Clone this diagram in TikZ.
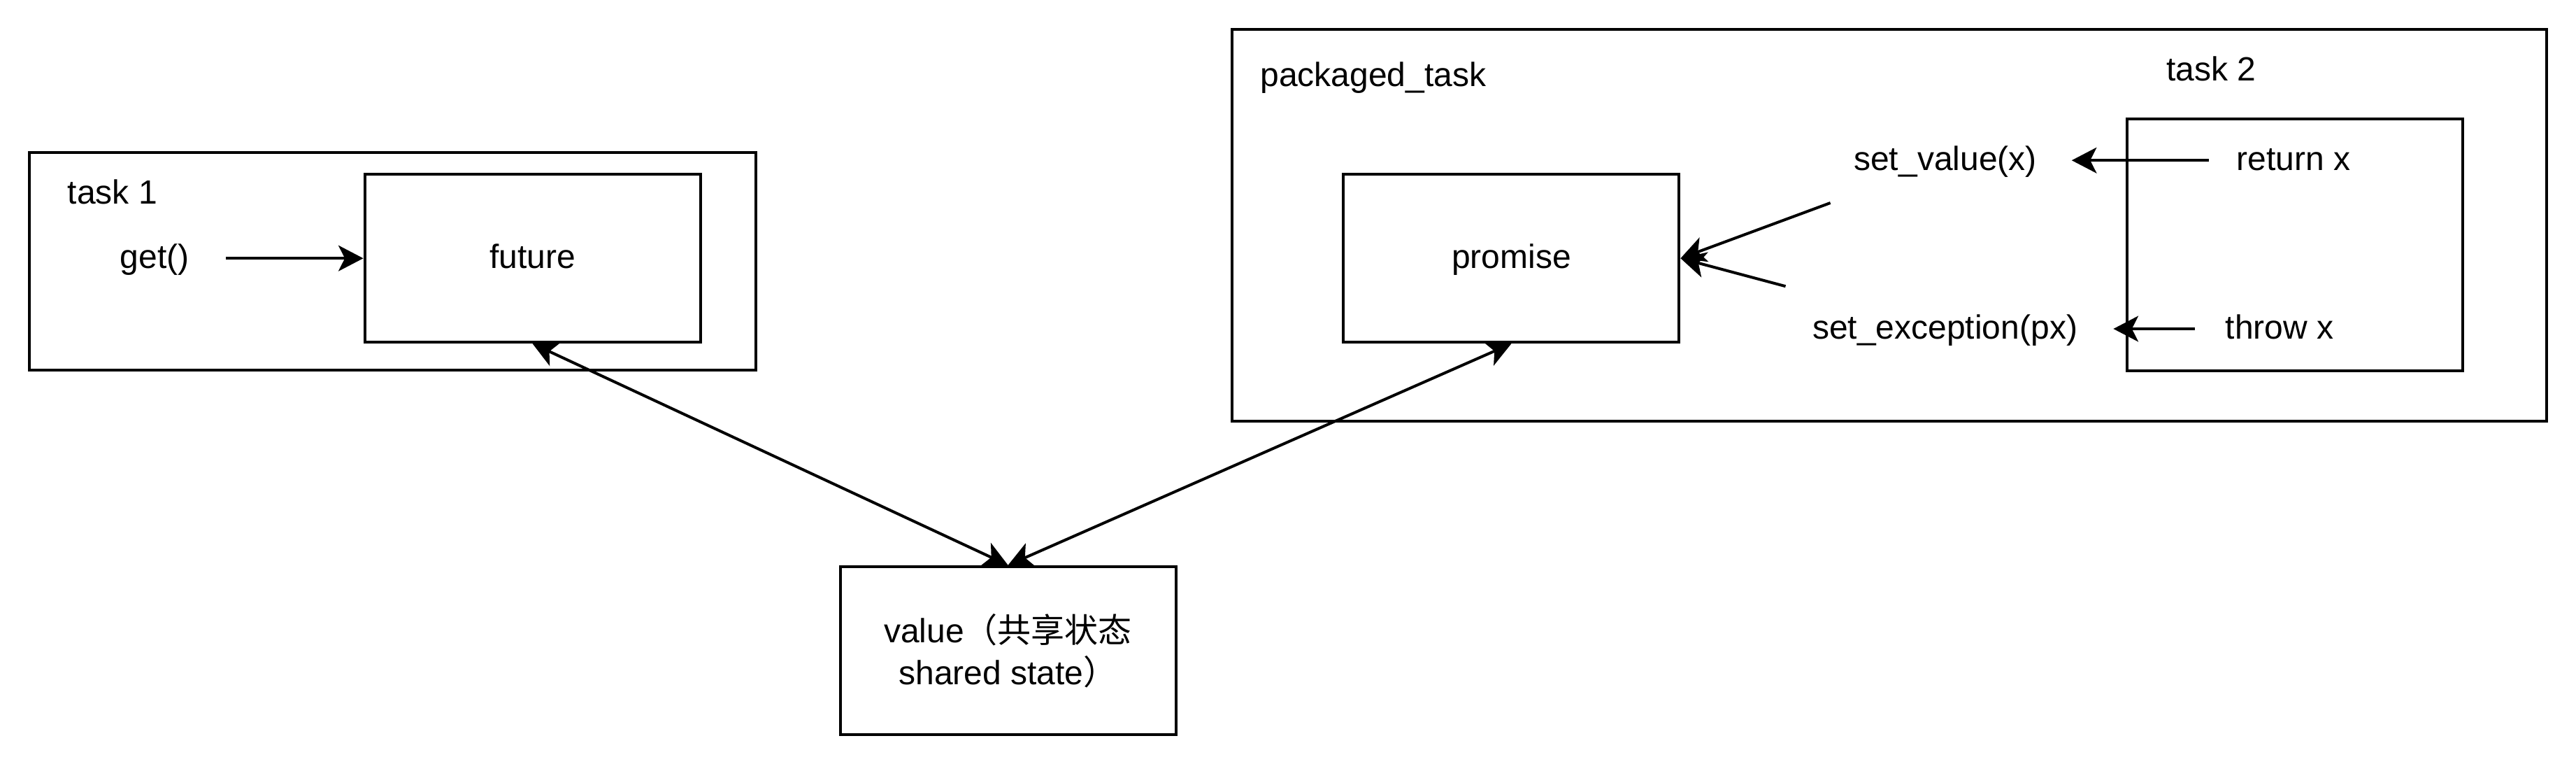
\documentclass[tikz,border=0pt]{standalone}
\usepackage{fontspec}
\setmainfont{Liberation Sans}
\newfontfamily\cjk{Noto Sans CJK SC}
\usetikzlibrary{arrows.meta}

\begin{document}
\begin{tikzpicture}[
  x=1pt, y=-1pt,
  every node/.style={font=\fontsize{12}{15}\selectfont},
  >={Stealth[length=8.9pt, width=9.2pt, inset=2.3pt]},
  base/.style={inner sep=0pt, text height=9pt, text depth=2pt},
  box/.style={base, draw, line width=1pt, minimum width=120pt,
              minimum height=60pt},
  shared/.style={draw, line width=1pt, minimum width=120pt,
                 minimum height=60pt, inner sep=0pt, align=center},
  grp/.style={draw, line width=1pt, inner sep=0pt},
  cell/.style={base, minimum height=30pt},
  lbl/.style={inner sep=0pt, anchor=base},
  ar/.style={->, line width=1pt},
  dar/.style={<->, line width=1pt}
]
\useasboundingbox (0,0) rectangle (921,273);

% task 1 with its future
\node[grp, minimum width=259.9pt, minimum height=77.8pt] (task1) at (140.35,93.4) {};
\node[lbl] (t1lbl) at (40.2,72.9) {task 1};
\node[cell, minimum width=50.4pt] (get) at (55.3,92.3) {get()};
\node[box] (future) at (190.4,92.3) {future};

% packaged_task with its promise and task 2
\node[grp, minimum width=470.1pt, minimum height=140pt] (pkg) at (675.45,80.4) {};
\node[lbl, anchor=base west] (pklbl) at (450.4,30.8) {packaged\_task};
\node[box] (promise) at (540.35,92.3) {promise};
\node[cell, minimum width=90pt] (setval) at (695.5,57.3) {set\_value(x)};
\node[cell, minimum width=120pt] (setexc) at (695.4,117.5) {set\_exception(px)};
\node[grp, minimum width=119.9pt, minimum height=89.9pt] (task2) at (820.55,87.45) {};
\node[lbl] (t2lbl) at (790.6,28.9) {task 2};
\node[cell, minimum width=60pt] (ret) at (820,57.3) {return x};
\node[cell, minimum width=60pt] (thr) at (815,117.5) {throw x};

% shared state
\node[shared] (value) at (360.4,232.45)
  {value{\cjk （共享状态}\\shared state{\cjk ）}};

\draw[ar] (get) -- (future);
\draw[ar] (ret) -- (setval);
\draw[ar] (thr) -- (setexc);
\draw[ar] (setval) -- (promise.east);
\draw[ar] (setexc) -- (promise.east);
\draw[dar] (future.south) -- (value.north);
\draw[dar] (promise.south) -- (value.north);

\end{tikzpicture}
\end{document}
